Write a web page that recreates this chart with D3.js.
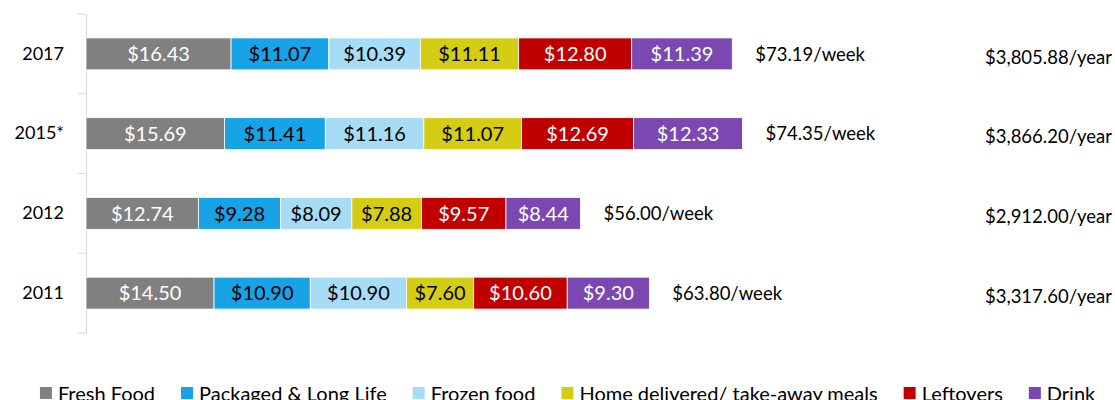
<!DOCTYPE html>
<html>
<head>
<meta charset="utf-8">
<script src="https://cdn.jsdelivr.net/npm/d3@7"></script>
<style>
  body { margin: 0; background: #fff; }
  svg { display: block; font-family: Lato, "Liberation Sans", sans-serif; }
</style>
</head>
<body>
<div id="chart"></div>
<script>
const years = ["2017", "2015*", "2012", "2011"];
const categories = ["Fresh Food", "Packaged & Long Life", "Frozen food", "Home delivered/ take-away meals", "Leftovers", "Drink"];
const freshFood = [16.43, 15.69, 12.74, 14.50];
const packaged = [11.07, 11.41, 9.28, 10.90];
const frozen = [10.39, 11.16, 8.09, 10.90];
const homeDelivered = [11.11, 11.07, 7.88, 7.60];
const leftovers = [12.80, 12.69, 9.57, 10.60];
const drink = [11.39, 12.33, 8.44, 9.30];
const weekTotals = ["$73.19/week", "$74.35/week", "$56.00/week", "$63.80/week"];
const yearTotals = ["$3,805.88/year", "$3,866.20/year", "$2,912.00/year", "$3,317.60/year"];
const colors = ["#808080", "#17a3e6", "#a6dcf5", "#d4cd14", "#c00000", "#7b48b1"];
const labelColors = ["#fff", "#000", "#000", "#000", "#fff", "#fff"];

const width = 1115, height = 400;
const margin = { top: 14, left: 86, bottom: 67 };

const series = [freshFood, packaged, frozen, homeDelivered, leftovers, drink];
const rows = years.map((y, i) => {
  const r = { year: y };
  categories.forEach((c, j) => (r[c] = series[j][i]));
  return r;
});
const stacked = d3.stack().keys(categories)(rows);

const svg = d3.select("#chart").append("svg")
  .attr("width", width).attr("height", height);

const x = d3.scaleLinear().domain([0, 80]).range([margin.left, margin.left + 80 * 8.83]);
const y = d3.scaleBand().domain(years)
  .range([margin.top, height - margin.bottom])
  .paddingInner(0.6).paddingOuter(0.3);

// axis
const gY = svg.append("g").attr("transform", `translate(${margin.left},0)`)
  .call(d3.axisLeft(y).tickSize(0).tickPadding(22));
gY.select(".domain").attr("stroke", "#d9d9d9");
gY.selectAll("text").attr("font-size", 18).attr("fill", "#000")
  .attr("font-family", "Lato, sans-serif");
const step = y.step();
const bounds = d3.range(years.length + 1).map(i => margin.top + i * step);
gY.selectAll(".bnd").data(bounds).join("line")
  .attr("class", "bnd")
  .attr("x1", -8).attr("x2", 0)
  .attr("y1", d => d).attr("y2", d => d)
  .attr("stroke", "#d9d9d9");

// bars
const layer = svg.append("g").selectAll("g").data(stacked).join("g")
  .attr("fill", (d, i) => colors[i]);
layer.selectAll("rect").data(d => d).join("rect")
  .attr("x", d => x(d[0]))
  .attr("y", d => y(d.data.year))
  .attr("width", d => x(d[1]) - x(d[0]))
  .attr("height", y.bandwidth())
  .attr("stroke", "#fff").attr("stroke-width", 0.8);
layer.selectAll("text").data((d, i) => d.map(v => ({ v, i }))).join("text")
  .attr("x", ({ v }) => (x(v[0]) + x(v[1])) / 2)
  .attr("y", ({ v }) => y(v.data.year) + y.bandwidth() / 2)
  .attr("dy", "0.36em")
  .attr("text-anchor", "middle")
  .attr("font-size", 20)
  .attr("fill", ({ i }) => labelColors[i])
  .text(({ v }) => "$" + (v[1] - v[0]).toFixed(2));

// totals
const lastLayer = stacked[stacked.length - 1];
svg.append("g").selectAll("text").data(lastLayer).join("text")
  .attr("x", d => x(d[1]) + 23)
  .attr("y", d => y(d.data.year) + y.bandwidth() / 2)
  .attr("dy", "0.36em")
  .attr("font-size", 18.5)
  .text((d, i) => weekTotals[i]);
svg.append("g").selectAll("text").data(years).join("text")
  .attr("x", width - 3)
  .attr("y", d => y(d) + y.bandwidth() / 2 + 3)
  .attr("dy", "0.36em")
  .attr("text-anchor", "end")
  .attr("font-size", 18.5)
  .text((d, i) => yearTotals[i]);

// legend
const legend = svg.append("g").attr("transform", `translate(0,${height + 1})`);
const items = legend.selectAll("g").data(categories).join("g");
items.append("rect")
  .attr("y", -14).attr("width", 12).attr("height", 12)
  .attr("fill", (d, i) => colors[i]);
items.append("text")
  .attr("x", 18).attr("font-size", 20)
  .text(d => d);
const widths = [];
items.each(function () { widths.push(this.getBBox().width); });
const gap = 26;
const total = d3.sum(widths) + gap * (widths.length - 1);
let pos = 568 - total / 2;
items.attr("transform", (d, i) => {
  const t = `translate(${pos},0)`;
  pos += widths[i] + gap;
  return t;
});
</script>
</body>
</html>
